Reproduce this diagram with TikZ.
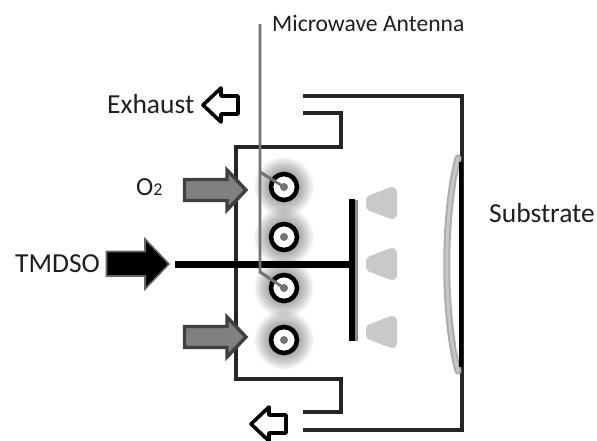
\documentclass[tikz,border=0pt]{standalone}
\usepackage{fontspec}
\setmainfont{Carlito}
\usetikzlibrary{calc}
\tikzset{
  wall/.style={draw=black!85,line width=3.8pt,line cap=butt,line join=miter},
  lbl/.style={inner sep=0pt,anchor=base west,text=black!88,font=\fontsize{27.5}{30}\selectfont},
  gasarrow/.style={draw=black!75,line width=3.4pt,fill=black!50,line join=miter},
  feedarrow/.style={draw=black!60,line width=1.6pt,fill=black,line join=miter},
  exharrow/.style={draw=black,line width=3.6pt,fill=white,line join=round},
  antenna/.style={draw=black!55,line width=2.8pt},
  ion/.style={draw=black!21,fill=black!21,line width=10pt,line join=round},
}
\newcommand{\rightarrowshape}[5][gasarrow]{% style, tail x, base x, tip x, y
  \draw[#1] (#2,#5-10.5) -- (#3,#5-10.5) -- (#3,#5-20) -- (#4,#5) -- (#3,#5+20) -- (#3,#5+10.5) -- (#2,#5+10.5) -- cycle;}
\newcommand{\exhshape}[1]{%
  \draw[exharrow] ($(#1)+(35,-9)$) -- ($(#1)+(18,-9)$) -- ($(#1)+(18,-17)$) -- (#1) -- ($(#1)+(18,17)$) -- ($(#1)+(18,9)$) -- ($(#1)+(35,9)$) -- cycle;}
\newcommand{\halo}[1]{%
  \foreach \r in {30,29,28,27,26,25,24,23,22,21,20,19,18,17,16}{\fill[black,opacity=0.024] (#1) circle (\r pt);}}
\newcommand{\electrode}[1]{%
  \fill[white] (#1) circle (13pt);
  \draw[black,line width=4.6pt] (#1) circle (13pt);
  \fill[black!55] (#1) circle (4pt);}
\begin{document}
\begin{tikzpicture}[x=1pt,y=-1pt]
\useasboundingbox[fill=white] (0,0) rectangle (597,440);
\coordinate (e1) at (284,187);
\coordinate (e2) at (284,237);
\coordinate (e3) at (284,288);
\coordinate (e4) at (284,340);
\coordinate (antTop) at (260,24);
\coordinate (antA) at (260,172);
\coordinate (antB) at (260,272);
% halos
\halo{e1}\halo{e2}\halo{e3}\halo{e4}
% chamber walls
\draw[wall] (303,96) -- (462,96) -- (462,430) -- (303,430);
\draw[wall] (303,113) -- (341,113) -- (341,147) -- (236,147) -- (236,379) -- (341,379) -- (341,412) -- (303,412);
% substrate
\draw[draw=black!32,line width=7pt,line cap=round] (458,158) .. controls (443,215) and (443,315) .. (458,371);
\draw[draw=black!22,line width=3pt,line cap=round] (458,158) .. controls (443,215) and (443,315) .. (458,371);
\fill[white] (457,176) .. controls (452,225) and (452,305) .. (457,354) -- cycle;
\draw[black,line width=4.5pt] (461,162) -- (461,367);
% gas feed
\fill[black!45] (355,200) rectangle (358,341);
\draw[black,line width=7pt] (175,264) -- (352,264);
\draw[black,line width=6pt] (352,199) -- (352,341);
% ions
\foreach \yy in {203,264,332}{
  \draw[ion] (392,\yy-11) -- (392,\yy+11) -- (371,\yy+3) -- (371,\yy-3) -- cycle;
}
% antenna
\draw[antenna] (antTop) -- (antB) -- (e3);
\draw[antenna] (antA) -- (e1);
% electrodes
\electrode{e1}\electrode{e2}\electrode{e3}\electrode{e4}
\draw[antenna] (antA) -- (e1);
\draw[antenna] (antB) -- (e3);
% arrows
\rightarrowshape{184.5}{227}{246}{190}
\rightarrowshape{184.5}{227}{246}{337}
\draw[feedarrow] (106.5,251.5) -- (145,251.5) -- (145,239) -- (169,264) -- (145,289) -- (145,276) -- (106.5,276) -- cycle;
\coordinate (ex1) at (203,105);
\coordinate (ex2) at (251,424);
\exhshape{ex1}
\exhshape{ex2}
% labels
\node[lbl,font=\fontsize{23.6}{26}\selectfont] (microwave) at (272,31) {Microwave Antenna};
\node[lbl] (exhaust) at (107,113) {Exhaust};
\node[lbl,font=\fontsize{26}{28}\selectfont] (oxygen) at (136,195) {O\raisebox{-0.03em}{\fontsize{18}{20}\selectfont 2}};
\node[lbl] (tmdso) at (15,272) {TMDSO};
\node[lbl] (substrate) at (489,222) {Substrate};
\end{tikzpicture}
\end{document}
